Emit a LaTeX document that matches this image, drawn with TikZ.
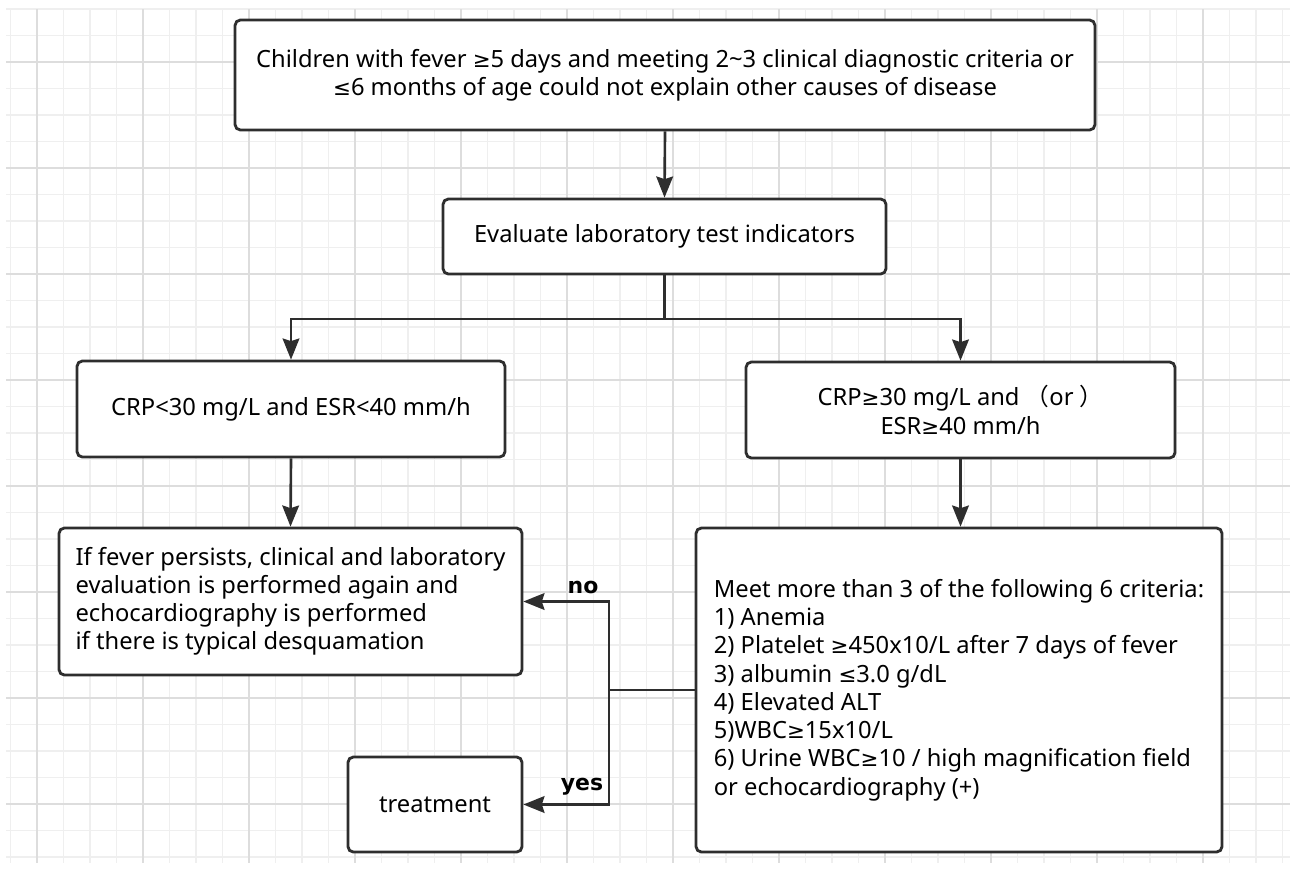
\documentclass[tikz,border=0pt]{standalone}
\usepackage{fontspec}
\setmainfont{Noto Sans}
\newfontfamily\cjk{Noto Sans CJK SC}
\newfontfamily\symfont{DejaVu Sans}
\newcommand{\gesym}{{\symfont\scalebox{0.9}{≥}}}
\newcommand{\lesym}{{\symfont\scalebox{0.9}{≤}}}
\usetikzlibrary{arrows.meta}
\definecolor{ink}{HTML}{2E2E2E}
\definecolor{gridminor}{HTML}{EFEFEF}
\definecolor{gridmajor}{HTML}{DDDDDD}

\begin{document}
\begin{tikzpicture}[x=0.02cm,y=-0.02cm,
                    box/.style={draw=ink,line width=1.6pt,rounded corners=3pt,fill=white,inner sep=0pt,
                                font=\fontsize{13.5}{16}\selectfont},
                    line/.style={draw=ink,line width=1.5pt},
                    arrow/.style={line,-{Stealth[length=12pt,width=9.5pt,inset=1.5pt]}},
                    lbl/.style={font=\symfont\bfseries\fontsize{12.5}{14}\selectfont}]
                    \useasboundingbox (0,0) rectangle (1290,870);
                    \fill[white] (0,0) rectangle (1290,870);
                    \foreach \i in {-1,...,47}
                        \draw[gridminor,line width=0.6pt] ({37+26.5*\i},9) -- ({37+26.5*\i},863);
                    \foreach \j in {0,...,32}
                        \draw[gridminor,line width=0.6pt] (6,{9+26.5*\j}) -- (1290,{9+26.5*\j});
                    \foreach \i in {0,4,...,44}
                        \draw[gridmajor,line width=0.6pt] ({37+26.5*\i},9) -- ({37+26.5*\i},863);
                    \foreach \j in {2,6,...,30}
                        \draw[gridmajor,line width=0.6pt] (6,{9+26.5*\j}) -- (1290,{9+26.5*\j});

                    \node[box,minimum width=17.2cm,minimum height=2.2cm,align=center] at (665,75) (top)
                        {Children with fever \gesym5 days and meeting 2\textasciitilde3 clinical diagnostic criteria or\\
                         \lesym6 months of age could not explain other causes of disease};
                    \node[box,minimum width=8.86cm,minimum height=1.5cm] at (664.5,236.5) (eval)
                        {Evaluate laboratory test indicators};
                    \node[box,minimum width=8.56cm,minimum height=1.92cm] at (291,409) (low)
                        {CRP<30 mg/L and ESR<40 mm/h};
                    \node[box,minimum width=8.58cm,minimum height=1.92cm,align=center] at (960.5,410) (high)
                        {CRP\gesym30 mg/L and {\cjk（}or {\cjk）}\\ESR\gesym40 mm/h};
                    \node[box,minimum width=9.26cm,minimum height=2.94cm,align=left,
                          font=\fontsize{13.5}{15.9}\selectfont] at (290.5,601.5) (persist)
                        {If fever persists, clinical and laboratory\\
                         evaluation is performed again and\\
                         echocardiography is performed\\
                         if there is typical desquamation};
                    \node[box,minimum width=3.48cm,minimum height=1.9cm] at (435,804.5) (treat) {treatment};
                    \node[box,minimum width=10.52cm,minimum height=6.48cm,align=left,
                          font=\fontsize{13.5}{16.1}\selectfont] at (959,690) (criteria)
                        {Meet more than 3 of the following 6 criteria:\\
                         1) Anemia\\
                         2) Platelet \gesym450x10/L after 7 days of fever\\
                         3) albumin \lesym3.0 g/dL\\
                         4) Elevated ALT\\
                         5)WBC\gesym15x10/L\\
                         6) Urine WBC\gesym10 / high magnification field\\
                         or echocardiography (+)};

                    \coordinate (split) at (664.5,319);
                    \coordinate (junc) at (609,690);

                    \draw[arrow] (top.south) -- (eval.north);
                    \draw[line] (eval.south) -- (split);
                    \draw[arrow] (split) -| (low.north);
                    \draw[arrow] (split) -| (high.north);
                    \draw[arrow] (low.south) -- (persist.north);
                    \draw[arrow] (high.south) -- (high.south |- criteria.north);
                    \draw[line] (criteria.west) -- (junc);
                    \draw[arrow] (junc) |- (persist.east);
                    \draw[arrow] (junc) |- (treat.east);

                    \node[lbl] at (583,587) (no) {no};
                    \node[lbl] at (582,787) (yes) {yes};
                \end{tikzpicture}
\end{document}
